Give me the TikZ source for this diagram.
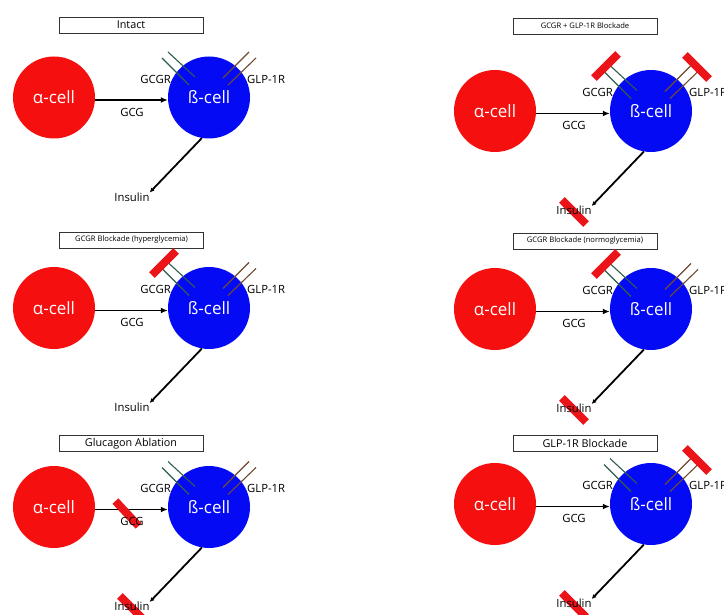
\documentclass[tikz,border=0pt]{standalone}
\usepackage{fontspec}
\setmainfont{Open Sans}
\usetikzlibrary{calc,arrows.meta}
\definecolor{acell}{RGB}{245,15,15}
\definecolor{bcell}{RGB}{5,10,245}
\definecolor{gcgrc}{RGB}{45,95,75}
\definecolor{glpc}{RGB}{110,75,50}
\definecolor{blockred}{RGB}{235,20,25}
\tikzset{
  cellA/.style={circle, fill=acell, minimum size=82pt, inner sep=0pt, text=white, font=\fontsize{17}{17}\selectfont},
  cellB/.style={circle, fill=bcell, minimum size=82pt, inner sep=0pt, text=white, font=\fontsize{17}{17}\selectfont},
  lbl/.style={inner sep=0pt, font=\fontsize{11.3}{11.3}\selectfont},
  bigtitle/.style={draw=black!80, line width=0.8pt, minimum width=144pt, minimum height=16pt, inner sep=0pt, font=\fontsize{10.8}{10.8}\selectfont},
  smalltitle/.style={draw=black!80, line width=0.8pt, minimum width=144pt, minimum height=16pt, inner sep=0pt, font=\fontsize{7.6}{7.6}\selectfont},
  flow/.style={line width=1.8pt, -{Latex[length=7pt,width=6pt]}},
  outflow/.style={line width=1.8pt, -{Latex[length=4.5pt,width=4.5pt]}},
  recG/.style={draw=gcgrc, line width=1.1pt},
  recL/.style={draw=glpc, line width=1.1pt},
  blockbar/.style={fill=blockred, minimum width=34pt, minimum height=8pt, inner sep=0pt},
}
% #1 prefix, #2 alpha x, #3 beta x, #4 y, #5 GCGR blocked, #6 GLP-1R blocked, #7 GCG blocked, #8 insulin blocked
\newcommand\isletpanel[8]{%
  \begin{scope}[name prefix=#1-]
    \node[cellA] (a) at (#2,#4) {α-cell};
    \node[cellB] (b) at (#3,#4) {ß-cell};
    \draw[recG] ($(b)+(-41,-45.5)$) -- ($(b)+(-14,-20.5)$);
    \draw[recG] ($(b)+(-47,-39.5)$) -- ($(b)+(-20,-12.5)$);
    \draw[recL] ($(b)+(40,-45.5)$) -- ($(b)+(14,-19.5)$);
    \draw[recL] ($(b)+(47,-39.5)$) -- ($(b)+(19,-12.5)$);
    \ifnum#5=1 \node[blockbar, rotate=45] (gcgrbar) at ($(b)+(-45,-45)$) {};\fi
    \ifnum#6=1 \node[blockbar, rotate=-45] (glpbar) at ($(b)+(46,-44)$) {};\fi
    \draw[flow] ($(a.east)+(0,2.5)$) -- ($(b.west)+(0,2.5)$);
    \ifnum#7=1 \node[blockbar, rotate=-47] (gcgbar) at ($(b)+(-82,6.5)$) {};\fi
    \node[lbl] (gcg) at ($(b)+(-77,14.5)$) {GCG};
    \ifnum#8=1 \node[blockbar, rotate=-45] (insbar) at ($(b)+(-77,101)$) {};\fi
    \node[lbl] (ins) at ($(b)+(-77,99.5)$) {Insulin};
    \draw[outflow] (b.260) -- (ins.north east);
    \node[lbl, anchor=east] (gcgr) at ($(b)+(-38,-18.5)$) {GCGR};
    \node[lbl, anchor=west] (glp) at ($(b)+(38,-18.5)$) {GLP-1R};
  \end{scope}}
\begin{document}
\begin{tikzpicture}[x=1pt, y=-1pt]
  \useasboundingbox (0,0) rectangle (724,615);
  \fill[white] (0,0) rectangle (724,615);
  \node[bigtitle] (t1) at (131,25) {Intact};
  \isletpanel{p1}{54}{209}{97.5}{0}{0}{0}{0}
  \node[smalltitle] (t2) at (585,26) {GCGR + GLP-1R Blockade};
  \isletpanel{p2}{495}{651}{111}{1}{1}{0}{1}
  \node[smalltitle] (t3) at (131.5,240) {GCGR Blockade (hyperglycemia)};
  \isletpanel{p3}{54}{209}{308}{1}{0}{0}{0}
  \node[smalltitle] (t4) at (585,241) {GCGR Blockade (normoglycemia)};
  \isletpanel{p4}{495}{651}{309}{1}{0}{0}{1}
  \node[bigtitle] (t5) at (131,443.5) {Glucagon Ablation};
  \isletpanel{p5}{54}{209}{507}{0}{0}{1}{1}
  \node[bigtitle] (t6) at (585,443.5) {GLP-1R Blockade};
  \isletpanel{p6}{495}{651}{504}{0}{1}{0}{1}
\end{tikzpicture}
\end{document}
